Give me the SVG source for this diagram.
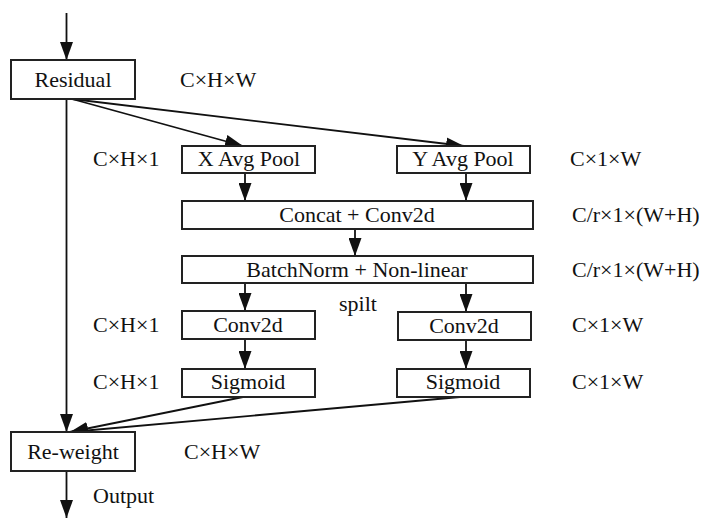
<svg xmlns="http://www.w3.org/2000/svg" width="705" height="518" viewBox="0 0 705 518">
<defs>
<marker id="ah" markerUnits="userSpaceOnUse" markerWidth="19" markerHeight="13" refX="18" refY="6.5" orient="auto">
<path d="M0,0 L18,6.5 L0,13 z" fill="#111"/>
</marker>
</defs>
<rect width="705" height="518" fill="#fff"/>
<g id="connectors" stroke="#111" stroke-width="1.8" fill="none" marker-end="url(#ah)">
<line x1="66.5" y1="13" x2="66.5" y2="60"/>
<line x1="66.5" y1="99" x2="66.5" y2="432"/>
<line x1="72" y1="99" x2="243" y2="146"/>
<line x1="72" y1="99" x2="464" y2="146"/>
<line x1="245" y1="173" x2="245" y2="201"/>
<line x1="466" y1="173" x2="466" y2="201"/>
<line x1="355" y1="229" x2="355" y2="256"/>
<line x1="245" y1="283" x2="245" y2="311"/>
<line x1="466" y1="283" x2="466" y2="312"/>
<line x1="245" y1="339" x2="245" y2="369"/>
<line x1="466" y1="340" x2="466" y2="369"/>
<line x1="243" y1="397" x2="70" y2="432"/>
<line x1="460" y1="397" x2="70" y2="432"/>
<line x1="66.5" y1="471" x2="66.5" y2="518"/>
</g>
<g id="residual"><rect x="11" y="60" width="124" height="39" fill="#fff" stroke="#222" stroke-width="2"/><text x="73" y="87" style="font-family:'Liberation Serif','Times New Roman',serif;font-size:22px" text-anchor="middle" fill="#111">Residual</text></g>
<g id="xpool"><rect x="182" y="146" width="133" height="27" fill="#fff" stroke="#222" stroke-width="2"/><text x="249" y="166" style="font-family:'Liberation Serif','Times New Roman',serif;font-size:22px" text-anchor="middle" fill="#111">X Avg Pool</text></g>
<g id="ypool"><rect x="397" y="146" width="133" height="27" fill="#fff" stroke="#222" stroke-width="2"/><text x="463" y="166" style="font-family:'Liberation Serif','Times New Roman',serif;font-size:22px" text-anchor="middle" fill="#111">Y Avg Pool</text></g>
<g id="concat"><rect x="182" y="201" width="351" height="28" fill="#fff" stroke="#222" stroke-width="2"/><text x="357" y="222" style="font-family:'Liberation Serif','Times New Roman',serif;font-size:22px" text-anchor="middle" fill="#111">Concat + Conv2d</text></g>
<g id="batchnorm"><rect x="182" y="256" width="351" height="27" fill="#fff" stroke="#222" stroke-width="2"/><text x="357" y="277" style="font-family:'Liberation Serif','Times New Roman',serif;font-size:22px" text-anchor="middle" fill="#111">BatchNorm + Non-linear</text></g>
<g id="conv-left"><rect x="182" y="311" width="133" height="28" fill="#fff" stroke="#222" stroke-width="2"/><text x="248" y="332" style="font-family:'Liberation Serif','Times New Roman',serif;font-size:22px" text-anchor="middle" fill="#111">Conv2d</text></g>
<g id="conv-right"><rect x="398" y="312" width="133" height="28" fill="#fff" stroke="#222" stroke-width="2"/><text x="464" y="333" style="font-family:'Liberation Serif','Times New Roman',serif;font-size:22px" text-anchor="middle" fill="#111">Conv2d</text></g>
<g id="sig-left"><rect x="182" y="369" width="133" height="28" fill="#fff" stroke="#222" stroke-width="2"/><text x="248" y="389" style="font-family:'Liberation Serif','Times New Roman',serif;font-size:22px" text-anchor="middle" fill="#111">Sigmoid</text></g>
<g id="sig-right"><rect x="397" y="369" width="133" height="28" fill="#fff" stroke="#222" stroke-width="2"/><text x="463" y="389" style="font-family:'Liberation Serif','Times New Roman',serif;font-size:22px" text-anchor="middle" fill="#111">Sigmoid</text></g>
<g id="reweight"><rect x="11" y="432" width="124" height="39" fill="#fff" stroke="#222" stroke-width="2"/><text x="73" y="459" style="font-family:'Liberation Serif','Times New Roman',serif;font-size:22px" text-anchor="middle" fill="#111">Re-weight</text></g>
<g id="labels" fill="#111">
<text x="180" y="87" style="font-family:'Liberation Serif','Times New Roman',serif;font-size:22px">C&#215;H&#215;W</text>
<text x="93" y="166" style="font-family:'Liberation Serif','Times New Roman',serif;font-size:22px">C&#215;H&#215;1</text>
<text x="570" y="166" style="font-family:'Liberation Serif','Times New Roman',serif;font-size:22px">C&#215;1&#215;W</text>
<text x="572" y="222" style="font-family:'Liberation Serif','Times New Roman',serif;font-size:22px">C/r&#215;1&#215;(W+H)</text>
<text x="572" y="277" style="font-family:'Liberation Serif','Times New Roman',serif;font-size:22px">C/r&#215;1&#215;(W+H)</text>
<text x="339" y="311" style="font-family:'Liberation Serif','Times New Roman',serif;font-size:22px">spilt</text>
<text x="93" y="332" style="font-family:'Liberation Serif','Times New Roman',serif;font-size:22px">C&#215;H&#215;1</text>
<text x="572" y="332" style="font-family:'Liberation Serif','Times New Roman',serif;font-size:22px">C&#215;1&#215;W</text>
<text x="93" y="389" style="font-family:'Liberation Serif','Times New Roman',serif;font-size:22px">C&#215;H&#215;1</text>
<text x="572" y="389" style="font-family:'Liberation Serif','Times New Roman',serif;font-size:22px">C&#215;1&#215;W</text>
<text x="184" y="459" style="font-family:'Liberation Serif','Times New Roman',serif;font-size:22px">C&#215;H&#215;W</text>
<text x="93" y="503" style="font-family:'Liberation Serif','Times New Roman',serif;font-size:22px">Output</text>
</g>
</svg>
